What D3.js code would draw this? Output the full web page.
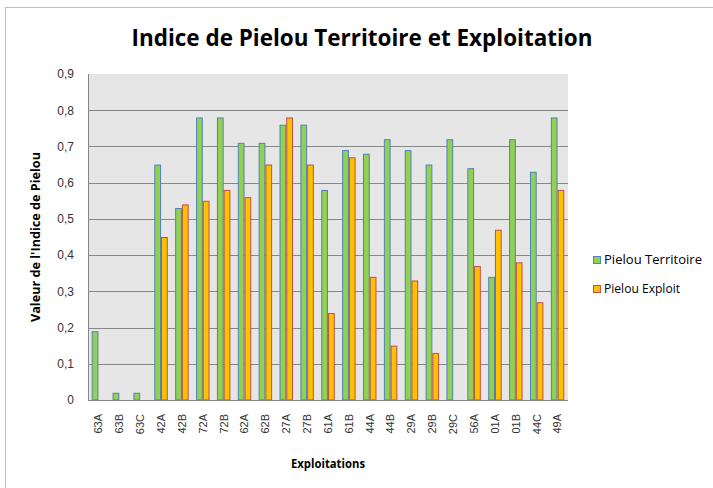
<!DOCTYPE html>
<html>
<head>
<meta charset="utf-8">
<script src="https://cdn.jsdelivr.net/npm/d3@7/dist/d3.min.js"></script>
<style>
  body { margin: 0; background: #fff; }
  text { font-family: "Open Sans", "Liberation Sans", sans-serif; }
</style>
</head>
<body>
<div id="chart"></div>
<script>
var categories = ["63A", "63B", "63C", "42A", "42B", "72A", "72B", "62A", "62B", "27A", "27B", "61A",
    "61B", "44A", "44B", "29A", "29B", "29C", "56A", "01A", "01B", "44C", "49A"];
var territoire = [0.19, 0.02, 0.02, 0.65, 0.53, 0.78, 0.78, 0.71, 0.71, 0.76, 0.76, 0.58,
    0.69, 0.68, 0.72, 0.69, 0.65, 0.72, 0.64, 0.34, 0.72, 0.63, 0.78];
var exploit = [0, 0, 0, 0.45, 0.54, 0.55, 0.58, 0.56, 0.65, 0.78, 0.65, 0.24,
    0.67, 0.34, 0.15, 0.33, 0.13, 0, 0.37, 0.47, 0.38, 0.27, 0.58];
var seriesNames = ["Pielou Territoire", "Pielou Exploit"];
var yTicks = [0, 0.1, 0.2, 0.3, 0.4, 0.5, 0.6, 0.7, 0.8, 0.9];

var W = 713, H = 488;
var margins = {top: 74, right: 145, bottom: 88, left: 88},
    width = W - margins.left - margins.right,
    height = H - margins.top - margins.bottom;

var fills = ["#92d050", "#ffc000"],
    strokes = ["#4f81bd", "#c0504d"];

var svg = d3.select("#chart").append("svg")
    .attr("width", W)
    .attr("height", H);

// outer chart border (only top/left visible in the picture)
svg.append("rect")
    .attr("x", 5.5).attr("y", 7.5)
    .attr("width", W + 10).attr("height", H + 10)
    .attr("fill", "#fff")
    .attr("stroke", "#bfbfbf");

var g = svg.append("g")
    .attr("transform", "translate(" + margins.left + "," + margins.top + ")");

var x0 = d3.scaleBand().domain(categories).range([0, width]).padding(0);
var x1 = d3.scaleBand().domain([0, 1]).range([0, x0.bandwidth()]).paddingInner(0).paddingOuter(0.55);
var y = d3.scaleLinear().domain([0, 0.9]).range([height, 0]);

g.append("rect")
    .attr("width", width).attr("height", height)
    .attr("fill", "#e6e6e6");

// gridlines
g.selectAll(".grid").data(yTicks.slice(1, -1)).enter()
    .append("line")
    .attr("x1", 0).attr("x2", width)
    .attr("y1", function(d) { return Math.round(y(d)) + 0.5; })
    .attr("y2", function(d) { return Math.round(y(d)) + 0.5; })
    .attr("stroke", "#878787");

// bars
var rows = categories.map(function(c, i) {
    return {cat: c, vals: [{k: 0, v: territoire[i]}, {k: 1, v: exploit[i]}]};
});
var groups = g.selectAll(".grp").data(rows).enter()
    .append("g")
    .attr("transform", function(d) { return "translate(" + x0(d.cat) + ",0)"; });

groups.selectAll("rect")
    .data(function(d) { return d.vals.filter(function(e) { return e.v > 0; }); })
    .enter()
    .append("rect")
    .attr("x", function(d) { return x1(d.k) + 0.5; })
    .attr("y", function(d) { return y(d.v) + 0.5; })
    .attr("width", x1.bandwidth() - 1)
    .attr("height", function(d) { return height - y(d.v) - 0.5; })
    .attr("fill", function(d) { return fills[d.k]; })
    .attr("stroke", function(d) { return strokes[d.k]; })
    .attr("stroke-width", 1);

// axes
var yAxis = g.append("g").call(d3.axisLeft(y).tickValues(yTicks).tickSize(0).tickPadding(14)
    .tickFormat(function(d) { return d === 0 ? "0" : d3.format(".1f")(d).replace(".", ","); }));
yAxis.select(".domain").remove();
yAxis.selectAll("text").attr("font-size", 12).attr("fill", "#333")
    .style("font-family", "Liberation Sans, sans-serif");

g.append("line").attr("x1", 0.5).attr("x2", 0.5).attr("y1", 0).attr("y2", height)
    .attr("stroke", "#878787");
g.append("line").attr("x1", 0).attr("x2", width).attr("y1", height + 0.5).attr("y2", height + 0.5)
    .attr("stroke", "#878787");

var xAxis = g.append("g").attr("transform", "translate(0," + height + ")")
    .call(d3.axisBottom(x0).tickSize(0));
xAxis.select(".domain").remove();
xAxis.selectAll("text")
    .attr("transform", "rotate(-90)")
    .attr("x", -14).attr("y", 0).attr("dy", "0.35em")
    .attr("text-anchor", "end")
    .attr("font-size", 11).attr("fill", "#333")
    .style("font-family", "Liberation Sans, sans-serif");

// titles
svg.append("text")
    .attr("x", 362).attr("y", 46)
    .attr("text-anchor", "middle")
    .attr("font-size", 24).attr("font-weight", "bold")
    .attr("textLength", 461).attr("lengthAdjust", "spacingAndGlyphs")
    .text("Indice de Pielou Territoire et Exploitation");

svg.append("text")
    .attr("x", margins.left + width / 2).attr("y", 468)
    .attr("text-anchor", "middle")
    .attr("font-size", 12).attr("font-weight", "bold")
    .attr("textLength", 74).attr("lengthAdjust", "spacingAndGlyphs")
    .text("Exploitations");

svg.append("text")
    .attr("transform", "translate(40," + (margins.top + height / 2) + ") rotate(-90)")
    .attr("text-anchor", "middle")
    .attr("font-size", 12).attr("font-weight", "bold")
    .attr("textLength", 170).attr("lengthAdjust", "spacingAndGlyphs")
    .text("Valeur de l'Indice de Pielou");

// legend
var legend = svg.append("g").attr("transform", "translate(593,256)");
seriesNames.forEach(function(name, k) {
    legend.append("rect")
        .attr("x", 0.5).attr("y", k * 29 + 0.5)
        .attr("width", 7).attr("height", 7)
        .attr("fill", fills[k]).attr("stroke", strokes[k]);
    legend.append("text")
        .attr("x", 11).attr("y", k * 29 + 8)
        .attr("font-size", 13)
        .attr("textLength", k === 0 ? 98 : 76).attr("lengthAdjust", "spacingAndGlyphs")
        .text(name);
});
</script>
</body>
</html>
